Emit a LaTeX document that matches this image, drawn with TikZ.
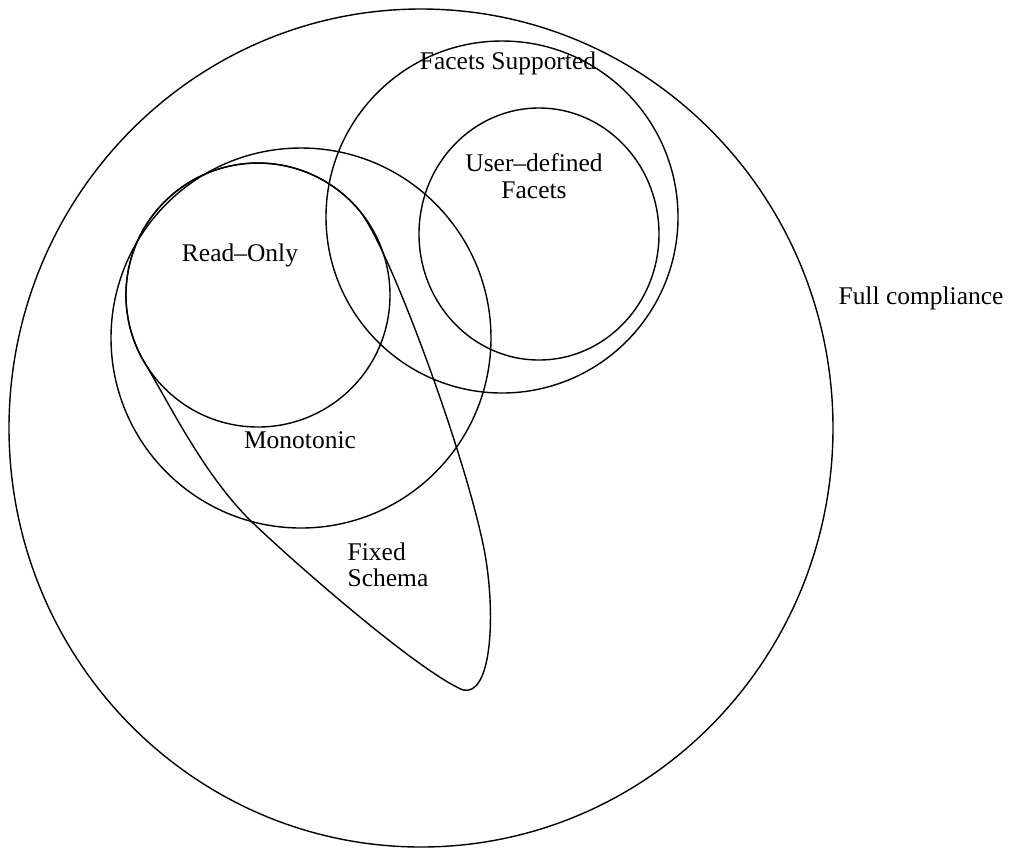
\documentclass[tikz,border=0pt]{standalone}
\usepackage{fontspec}
\setmainfont{Liberation Serif}
\usepackage{tikz}

\begin{document}
\begin{tikzpicture}[x=0.02cm, y=-0.02cm, line width=0.8pt,
		lbl/.style={font=\fontsize{14.5}{15}\selectfont, inner sep=0pt}]
		%%%%% START %%%%%
		
		\useasboundingbox (0, 0) rectangle (1011, 850);
		
		% full compliance
		\draw (421, 428) ellipse (412 and 419);
		
		% facets supported
		\draw (502, 217) circle (176);
		\draw (539, 234) ellipse (120 and 126);
		
		% monotonic and read-only
		\draw (301, 338) circle (190);
		\draw (258, 295) circle (132);
		
		% fixed schema
		\draw (146, 365) arc[start angle=148, end angle=320, radius=132]
			.. controls (391, 248) and (477, 487) .. (487, 567)
			.. controls (495, 625) and (490, 696) .. (463, 690)
			.. controls (420, 672) and (300, 568) .. (253, 523)
			.. controls (205, 477) and (170, 405) .. cycle;
		
		\node[lbl] (facets) at (508, 63) {Facets Supported};
		\node[lbl, align=center] (userdef) at (534, 176) {User--defined\\Facets};
		\node[lbl] (readonly) at (240, 255) {Read--Only};
		\node[lbl] (mono) at (300, 440) {Monotonic};
		\node[lbl, align=left, anchor=west] (fixed) at (347, 565) {Fixed\\Schema};
		\node[lbl] (full) at (921, 298) {Full compliance};
		
		%%%%% END %%%%%
	\end{tikzpicture}
\end{document}
